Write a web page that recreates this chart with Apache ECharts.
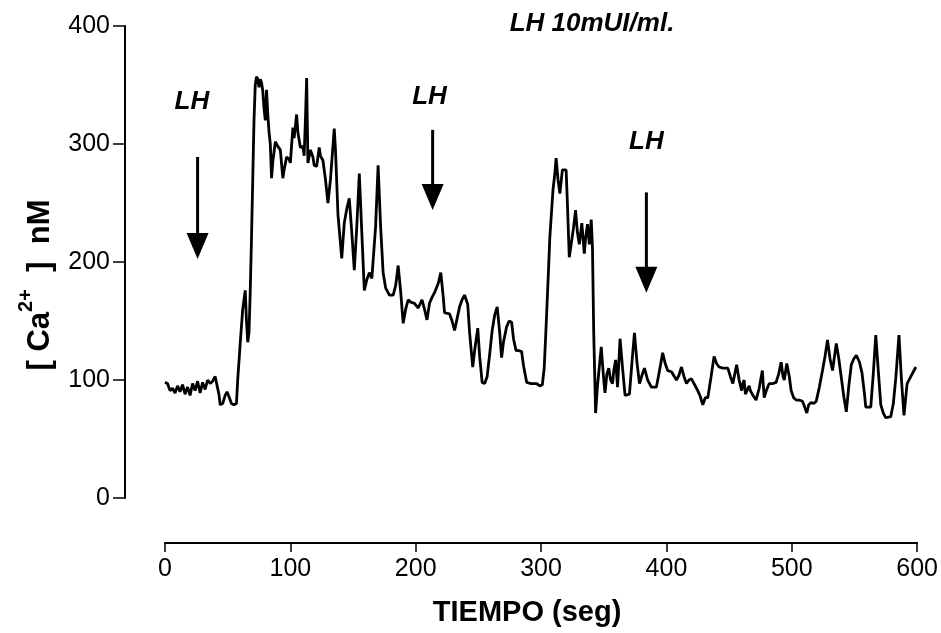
<!DOCTYPE html>
<html>
<head>
<meta charset="utf-8">
<script src="https://cdn.jsdelivr.net/npm/echarts@6/dist/echarts.min.js"></script>
<style>html,body{margin:0;padding:0;background:#fff}#c{width:941px;height:633px}</style>
</head>
<body>
<div id="c"></div>
<script>
// Time (s) and [Ca2+] (nM)
var timeSec = [0,2,4,6,8,10,12,14,16,18,20,22,24,26,28,30,32,34,36,38,40,41,43,44,46,48,49.5,51,53,55,57,58,60,62,64,65,66,67,68,69,70,71,72,73,74,75,76,77,78,79,80,81,82,83,84,85,86,88,90,92,94,95,97,99,100,102,103,105,106,108,110,111,112,113,114,116,118,119,121,123,124,126,128,130,132,135,136,138,141,143,145,147,149,151,153,155,157,159,161,163,165,166.5,168,170,172,174,176,179,182,184,186,188,190,192,194,196,199,202,205,207,209,211,213,215,218,220,222,223,227,229,231,233,235,237,239,241.5,243,245.5,247,249.5,251,253,255,257,259,261,263,265,267,268.5,270,272.5,274.5,276.5,278,280,282,284.5,286,288.5,292,296.5,299,301,302.5,304,306,307,309.5,311,312,313.5,315,317,320,321,322.5,324,326,327.5,329,330.5,332.5,334.5,335.5,337,338.5,340,341,342,343.5,345,348,350,351,352.5,354,355.5,357,358,359.5,361,363,365,367,370.5,372.5,374.5,376.5,378.5,380.5,382.5,385,388,392,394.5,397,399,401,404,408,410,412,414,416,418,420,422.5,425,427,429,431,433,435.5,438,440,442,445,449,451,453,456,458,460,461,462,463,464.5,466,467,469,471.5,474,476.5,478,480,482,485,487.5,489.5,491.5,493,494,496,498,499.5,501.5,503.5,506,508.5,510,512,513.5,515.5,517.5,519.5,522,524.5,526.5,528.5,530.5,532.5,535.5,537.5,539.5,541.5,543.5,545.5,547.5,549.5,551.5,554,556,558,559,563,565,567,569,571,573,575,579,581,583,585.5,587.5,589.5,592,595,599];
var caNM = [98,97,91,93,89,95,90,96,88,94,87,97,91,99,89,98,92,100,97,99,103,104,88,79,80,87,90,86,80,79,80,100,131,160,176,150,132,140,175,220,270,320,350,357,355,348,355,352,345,330,320,346,325,310,300,271,285,302,298,295,271,278,289,287,284,314,305,325,310,297,298,290,320,356,284,295,289,282,281,297,290,286,270,250,270,313,295,240,203,233,245,254,225,193,230,275,225,176,185,191,186,185,230,282,230,191,178,172,172,180,197,175,148,160,168,166,165,161,168,160,151,165,170,174,182,191,170,157,156,150,142,152,162,168,172,164,140,111,125,144,120,98,97,103,122,142,155,162,140,119,132,145,150,149,135,125,125,124,112,98,97,97,95,96,110,145,195,221,261,275,288,270,258,278,278,250,204,215,230,244,225,215,233,207,220,232,215,236,212,140,72,95,128,100,89,105,110,100,97,108,117,94,135,110,87,88,115,140,115,97,104,110,100,94,94,108,123,114,108,107,100,104,111,103,97,100,101,96,91,86,79,85,85,102,120,114,111,110,110,103,97,113,100,91,97,100,88,89,95,91,87,83,93,108,85,92,97,97,98,105,115,103,100,114,103,91,85,83,83,82,78,72,79,81,80,82,94,108,120,134,118,108,131,118,102,86,73,95,113,118,121,115,106,88,77,77,105,138,108,79,72,68,69,80,102,138,100,70,97,103,111];

// Axis ticks
var xTicks = [0,100,200,300,400,500,600];
var yTicks = [0,100,200,300,400];

// LH application arrows (time, arrow top, arrow tip, label time, label value)
var arrowTime  = [26, 213.5, 384];
var arrowTop   = [289, 312, 259];
var arrowTip   = [202.5, 244, 174];
var labelTime  = [21.5, 211, 384];
var labelValue = [336, 340, 302];
var arrowText  = ['LH','LH','LH'];

var title = 'LH 10mUI/ml.';
var xName = 'TIEMPO (seg)';

var traceData = timeSec.map(function(t,i){return [t, caNM[i]];});
var arrowData = arrowTime.map(function(t,i){return [t, arrowTop[i], arrowTip[i], labelTime[i], labelValue[i]];});

var chart = echarts.init(document.getElementById('c'), null, {renderer:'canvas'});
var FONT = '"Liberation Sans", Arial, sans-serif';
chart.setOption({
  animation: false,
  backgroundColor: '#fff',
  grid: {left: 165, right: 23, top: 26, bottom: 135},
  xAxis: {
    type: 'value', min: xTicks[0], max: xTicks[xTicks.length-1], interval: 100,
    offset: 45,
    axisLine: {show: true, onZero: false, lineStyle: {color: '#000', width: 2}},
    axisTick: {show: true, inside: false, length: 9, lineStyle: {color: '#000', width: 1.5}},
    axisLabel: {color: '#000', fontSize: 25, fontFamily: FONT, margin: 14},
    splitLine: {show: false},
    name: xName, nameLocation: 'middle', nameGap: 55,
    nameTextStyle: {color: '#000', fontSize: 29, fontWeight: 'bold', fontFamily: FONT, padding: [0, 28, 0, 0]}
  },
  yAxis: {
    type: 'value', min: yTicks[0], max: yTicks[yTicks.length-1], interval: 100,
    offset: 40,
    axisLine: {show: true, onZero: false, lineStyle: {color: '#000', width: 2}},
    axisTick: {show: true, inside: false, length: 12, lineStyle: {color: '#000', width: 1.5}},
    axisLabel: {color: '#000', fontSize: 25, fontFamily: FONT, margin: 15},
    splitLine: {show: false}
  },
  graphic: [
    {type: 'text', x: 592, y: 24, style: {text: title, font: 'italic bold 26px ' + FONT, fill: '#000', align: 'center', verticalAlign: 'middle'}},
    {type: 'text', x: 36, y: 285, rotation: Math.PI/2,
     style: {text: '{m|[ Ca}{s|2+}{m|  ]  nM}', align: 'center', verticalAlign: 'middle', fill: '#000',
       rich: {
         m: {fontSize: 31, fontWeight: 'bold', fontFamily: FONT, fill: '#000', verticalAlign: 'bottom', lineHeight: 40},
         s: {fontSize: 20, fontWeight: 'bold', fontFamily: FONT, fill: '#000', verticalAlign: 'top', lineHeight: 40}
       }}}
  ],
  series: [
    {
      type: 'line', data: traceData, showSymbol: false, symbol: 'none',
      lineStyle: {color: '#000', width: 2.8}, z: 3
    },
    {
      type: 'custom', data: arrowData, z: 4, clip: false,
      renderItem: function(params, api){
        var top = api.coord([api.value(0), api.value(1)]);
        var tip = api.coord([api.value(0), api.value(2)]);
        var lab = api.coord([api.value(3), api.value(4)]);
        return {type: 'group', children: [
          {type: 'line', shape: {x1: top[0], y1: top[1], x2: tip[0], y2: tip[1]-20}, style: {stroke: '#000', lineWidth: 3}},
          {type: 'polygon', shape: {points: [[tip[0]-11, tip[1]-26], [tip[0]+11, tip[1]-26], [tip[0], tip[1]]]}, style: {fill: '#000'}},
          {type: 'text', x: lab[0], y: lab[1], style: {text: arrowText[params.dataIndex], font: 'italic bold 26px ' + FONT, fill: '#000', align: 'center', verticalAlign: 'middle'}}
        ]};
      }
    }
  ]
});
</script>
</body>
</html>
